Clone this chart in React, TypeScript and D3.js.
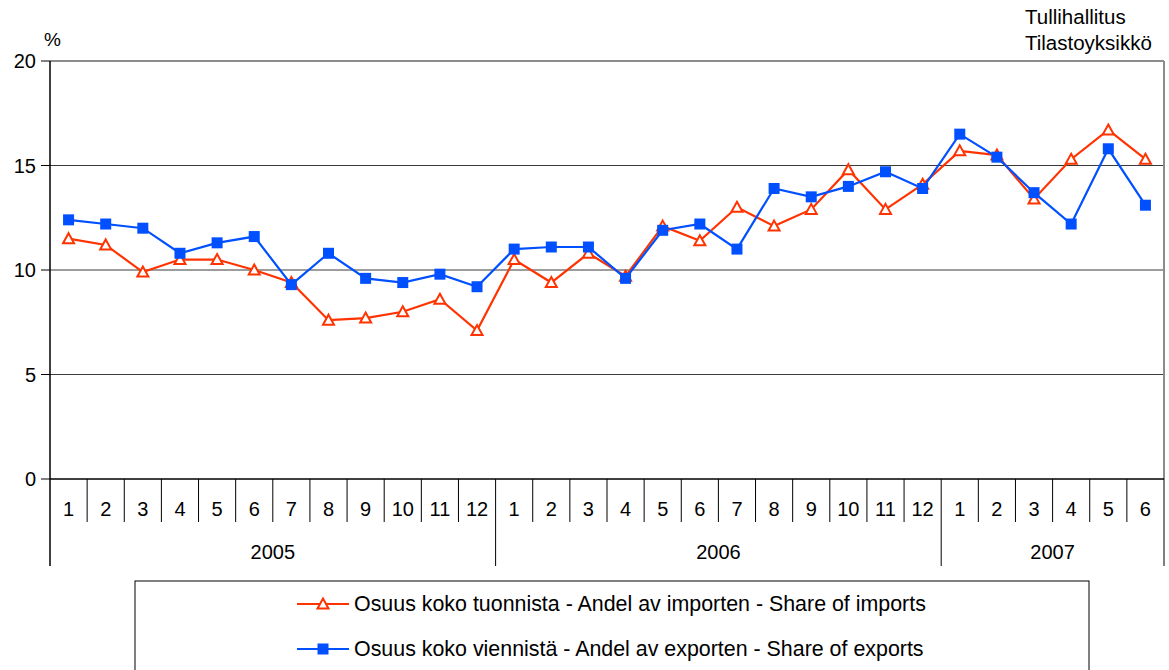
import React from "react";
import * as d3 from "d3";

const years = ["2005", "2006", "2007"];
const monthsPerYear = [12, 12, 6];
const monthLabels = [
  "1","2","3","4","5","6","7","8","9","10","11","12",
  "1","2","3","4","5","6","7","8","9","10","11","12",
  "1","2","3","4","5","6",
];
const imports = [
  11.5, 11.2, 9.9, 10.5, 10.5, 10.0, 9.4, 7.6, 7.7, 8.0, 8.6, 7.1,
  10.5, 9.4, 10.8, 9.7, 12.1, 11.4, 13.0, 12.1, 12.9, 14.8, 12.9, 14.1,
  15.7, 15.5, 13.4, 15.3, 16.7, 15.3,
];
const exportsS = [
  12.4, 12.2, 12.0, 10.8, 11.3, 11.6, 9.3, 10.8, 9.6, 9.4, 9.8, 9.2,
  11.0, 11.1, 11.1, 9.6, 11.9, 12.2, 11.0, 13.9, 13.5, 14.0, 14.7, 13.9,
  16.5, 15.4, 13.7, 12.2, 15.8, 13.1,
];
const yTicks = [0, 5, 10, 15, 20];
const seriesNames = [
  "Osuus koko tuonnista - Andel av importen - Share of imports",
  "Osuus koko viennistä - Andel av exporten - Share of exports",
];
const sourceLines = ["Tullihallitus", "Tilastoyksikkö"];

const RED = "#ff3300";
const BLUE = "#0050ff";
const FONT = "'Liberation Sans', Arial, sans-serif";

export default function App() {
  const W = 1169, H = 670;
  const left = 50, right = 1164, top = 61, bottom = 479;
  const idx = d3.range(monthLabels.length);
  const x = d3.scaleBand<number>().domain(idx).range([left, right]).padding(0);
  const y = d3.scaleLinear().domain([0, 20]).range([bottom, top]);
  const cx = (i: number) => (x(i) as number) + x.bandwidth() / 2;
  const line = d3.line<number>().x((_, i) => cx(i)).y((v) => y(v));

  const yearStarts: number[] = [];
  let acc = 0;
  monthsPerYear.forEach((m) => { yearStarts.push(acc); acc += m; });

  const tri = (px: number, py: number) => {
    const s = 5;
    return `M${px},${py - s - 0.5}L${px + s + 0.5},${py + s - 0.5}L${px - s - 0.5},${py + s - 0.5}Z`;
  };

  const legX1 = 297, legX2 = 349;
  const legY = [604, 649];
  const FS = 20;

  return (
    <svg width={W} height={H} style={{ position: "absolute", left: 0, top: 0, background: "#fff" }} fontFamily={FONT}>
      <rect x={0} y={0} width={W} height={H} fill="#fff" />
      {yTicks.filter((t) => t > 0 && t < 20).map((t) => (
        <line key={"g" + t} x1={left} x2={right} y1={y(t)} y2={y(t)} stroke="#3a3a3a" strokeWidth={1} />
      ))}
      <line x1={left} x2={right} y1={y(20)} y2={y(20)} stroke="#8c8c8c" strokeWidth={2} />
      <line x1={right} x2={right} y1={y(20)} y2={bottom} stroke="#8c8c8c" strokeWidth={2} />
      <line x1={left} x2={left} y1={top} y2={566} stroke="#000" strokeWidth={1.5} />
      {yTicks.map((t) => (
        <g key={"yt" + t}>
          <line x1={left - 9} x2={left} y1={y(t)} y2={y(t)} stroke="#000" strokeWidth={1} />
          <text x={36} y={y(t)} dy="0.35em" textAnchor="end" fontSize={FS} fill="#000">{t}</text>
        </g>
      ))}
      <text x={44} y={46} fontSize={19} fill="#000">%</text>
      <line x1={left} x2={right} y1={bottom} y2={bottom} stroke="#000" strokeWidth={1.5} />
      {idx.map((i) => (
        <g key={"xt" + i}>
          {i > 0 && (
            <line x1={x(i) as number} x2={x(i) as number} y1={bottom} y2={yearStarts.includes(i) ? 566 : 522} stroke="#000" strokeWidth={1} />
          )}
          <text x={cx(i)} y={509} dy="0.35em" textAnchor="middle" fontSize={FS} fill="#000">{monthLabels[i]}</text>
        </g>
      ))}
      <line x1={right} x2={right} y1={bottom} y2={566} stroke="#000" strokeWidth={1} />
      {years.map((yr, k) => {
        const s = yearStarts[k];
        const e = s + monthsPerYear[k];
        const mid = ((x(s) as number) + (x(e - 1) as number) + x.bandwidth()) / 2;
        return (
          <text key={yr} x={mid} y={552} dy="0.35em" textAnchor="middle" fontSize={FS} fill="#000">{yr}</text>
        );
      })}
      <path d={line(imports) || ""} fill="none" stroke={RED} strokeWidth={2.2} />
      <path d={line(exportsS) || ""} fill="none" stroke={BLUE} strokeWidth={2.2} />
      {imports.map((v, i) => (
        <path key={"m1" + i} d={tri(cx(i), y(v))} fill="#fff" stroke={RED} strokeWidth={2} />
      ))}
      {exportsS.map((v, i) => (
        <rect key={"m2" + i} x={cx(i) - 5.5} y={y(v) - 5.5} width={11} height={11} fill={BLUE} />
      ))}
      {sourceLines.map((s, i) => (
        <text key={s} x={1025} y={24 + i * 26} fontSize={20.5} fill="#000">{s}</text>
      ))}
      <rect x={135} y={581} width={954} height={100} fill="#fff" stroke="#000" strokeWidth={1} />
      <line x1={legX1} x2={legX2} y1={legY[0]} y2={legY[0]} stroke={RED} strokeWidth={2.2} />
      <path d={tri((legX1 + legX2) / 2, legY[0])} fill="#fff" stroke={RED} strokeWidth={2} />
      <text x={354} y={legY[0]} dy="0.35em" fontSize={21.4} fill="#000">{seriesNames[0]}</text>
      <line x1={legX1} x2={legX2} y1={legY[1]} y2={legY[1]} stroke={BLUE} strokeWidth={2.2} />
      <rect x={(legX1 + legX2) / 2 - 5.5} y={legY[1] - 5.5} width={11} height={11} fill={BLUE} />
      <text x={354} y={legY[1]} dy="0.35em" fontSize={21.4} fill="#000">{seriesNames[1]}</text>
    </svg>
  );
}
